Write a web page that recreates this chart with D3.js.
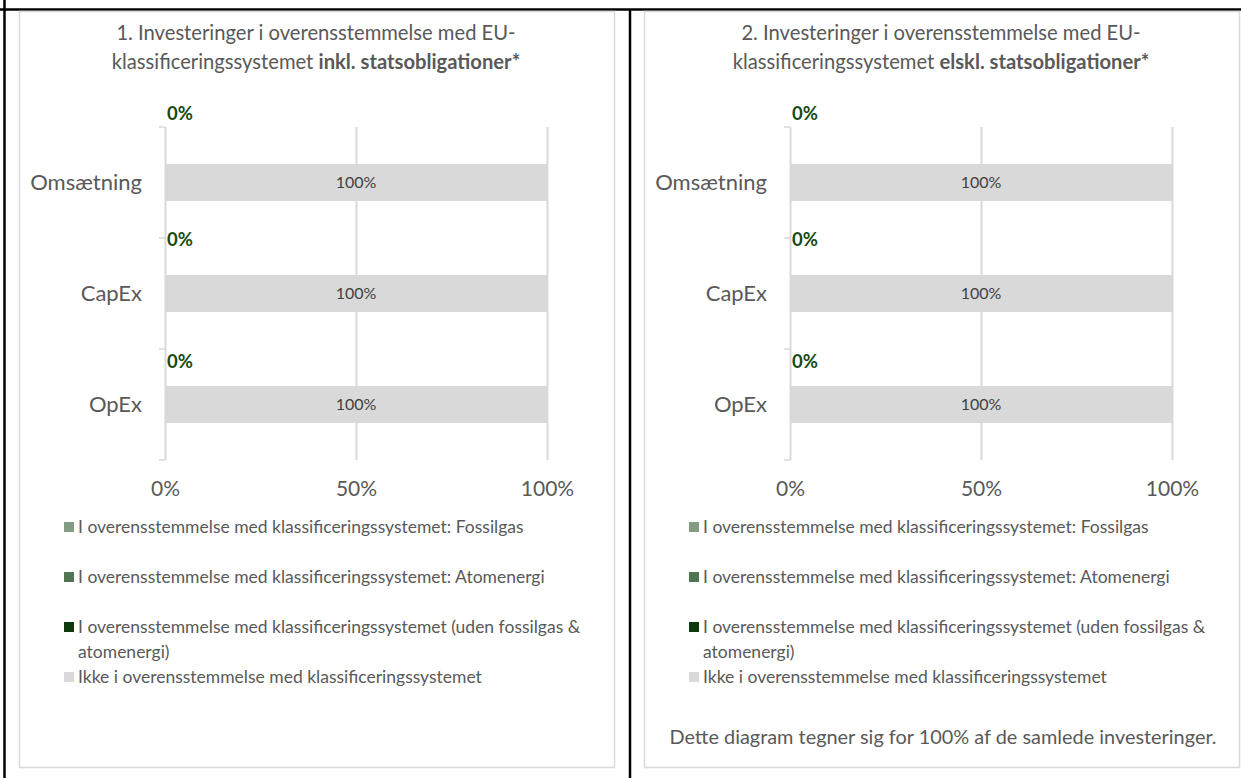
<!DOCTYPE html>
<html>
<head>
<meta charset="utf-8">
<script src="https://cdn.jsdelivr.net/npm/d3@7"></script>
<style>
  body { margin: 0; background: #fff; }
  svg text { font-family: Lato, "Open Sans", sans-serif; fill: #595959; }
</style>
</head>
<body>
<svg id="chart" width="1241" height="778"></svg>
<script>
// categories and series
const categories = ['Omsætning', 'CapEx', 'OpEx']
const seriesNames = [
  'I overensstemmelse med klassificeringssystemet: Fossilgas',
  'I overensstemmelse med klassificeringssystemet: Atomenergi',
  'I overensstemmelse med klassificeringssystemet (uden fossilgas & atomenergi)',
  'Ikke i overensstemmelse med klassificeringssystemet'
]
const seriesKeys = ['fossilgas', 'atomenergi', 'aligned', 'notAligned']
const seriesColors = ['#849c84', '#4f7552', '#0e3b0e', '#d9d9d9']

// panel 1 (inkl. statsobligationer)
const p1Fossilgas = [0, 0, 0]
const p1Atomenergi = [0, 0, 0]
const p1Aligned = [0, 0, 0]
const p1NotAligned = [100, 100, 100]

// panel 2 (eksl. statsobligationer)
const p2Fossilgas = [0, 0, 0]
const p2Atomenergi = [0, 0, 0]
const p2Aligned = [0, 0, 0]
const p2NotAligned = [100, 100, 100]

const xTicks = [0, 50, 100]

const titles1 = ['1. Investeringer i overensstemmelse med EU-', 'klassificeringssystemet ', 'inkl. statsobligationer*']
const titles2 = ['2. Investeringer i overensstemmelse med EU-', 'klassificeringssystemet ', 'elskl. statsobligationer*']
const note = 'Dette diagram tegner sig for 100% af de samlede investeringer.'

const svg = d3.select('#chart')

// table frame
svg.append('line').attr('x1', 4.5).attr('x2', 4.5).attr('y1', 0).attr('y2', 778)
  .attr('stroke', '#000').attr('stroke-width', 2.5)
svg.append('line').attr('x1', 0).attr('x2', 1241).attr('y1', 9.5).attr('y2', 9.5)
  .attr('stroke', '#000').attr('stroke-width', 2.5)
svg.append('line').attr('x1', 630).attr('x2', 630).attr('y1', 9).attr('y2', 778)
  .attr('stroke', '#000').attr('stroke-width', 2.5)

function drawPanel(offsetX, titleLines, values, withNote) {
  const g = svg.append('g').attr('transform', `translate(${offsetX}, 0)`)

  g.append('rect')
    .attr('x', 19.5).attr('y', 11.5).attr('width', 595).attr('height', 756)
    .attr('fill', '#fff').attr('stroke', '#d9d9d9').attr('stroke-width', 1.5)

  // title
  const t = g.append('text').attr('text-anchor', 'middle').style('font-size', '20.2px')
  t.append('tspan').attr('x', 316).attr('y', 40).text(titleLines[0])
  const t2 = t.append('tspan').attr('x', 316).attr('y', 69)
  t2.append('tspan').text(titleLines[1])
  t2.append('tspan').style('font-weight', 'bold').text(titleLines[2])

  const rows = categories.map((c, i) => {
    const r = {category: c}
    seriesKeys.forEach((k, j) => { r[k] = values[j][i] })
    return r
  })
  const stacked = d3.stack().keys(seriesKeys)(rows)

  const x = d3.scaleLinear().domain([0, 100]).range([165, 547])
  const y = d3.scaleBand().domain(categories).range([127, 460])
    .paddingInner(0.667).paddingOuter(0.333)
  const yCat = d3.scaleBand().domain(categories).range([127, 460])

  // gridlines
  g.append('g')
    .attr('transform', 'translate(0, 460)')
    .call(d3.axisBottom(x).tickValues(xTicks).tickSize(-333).tickFormat(''))
    .call(a => a.select('.domain').remove())
    .call(a => a.selectAll('line').attr('stroke', '#d9d9d9').attr('stroke-width', 2))

  // category axis
  const yAxis = g.append('g')
    .attr('transform', `translate(${x(0)}, 0)`)
    .call(d3.axisLeft(yCat).tickSize(0).tickPadding(23))
  yAxis.select('.domain').remove()
  yAxis.selectAll('text').style('font-size', '22px').attr('fill', '#595959')
  const bounds = categories.map(c => yCat(c)).concat([yCat(categories[2]) + yCat.bandwidth()])
  g.selectAll('.ytick').data(bounds).enter().append('line')
    .attr('x1', x(0) - 6).attr('x2', x(0)).attr('y1', d => d).attr('y2', d => d)
    .attr('stroke', '#d9d9d9').attr('stroke-width', 1.5)

  // value axis labels
  const xAxis = g.append('g')
    .attr('transform', 'translate(0, 460)')
    .call(d3.axisBottom(x).tickValues(xTicks).tickSize(0).tickPadding(21).tickFormat(d => d + '%'))
  xAxis.select('.domain').remove()
  xAxis.selectAll('text').style('font-size', '21px').attr('fill', '#595959')

  // bars
  stacked.forEach((s, j) => {
    g.append('g').selectAll('rect').data(s).enter().append('rect')
      .attr('x', d => x(d[0]))
      .attr('y', d => y(d.data.category))
      .attr('width', d => x(d[1]) - x(d[0]))
      .attr('height', y.bandwidth())
      .attr('fill', seriesColors[j])
  })

  // labels inside the grey bars
  const grey = stacked[3]
  g.append('g').selectAll('text').data(grey).enter().append('text')
    .attr('x', d => (x(d[0]) + x(d[1])) / 2)
    .attr('y', d => y(d.data.category) + y.bandwidth() / 2)
    .attr('text-anchor', 'middle').attr('dy', '0.35em')
    .style('font-size', '16px').style('fill', '#404040')
    .text(d => (d[1] - d[0]) + '%')

  // labels for the aligned series (shown above the bars)
  const labelShift = [-69, -54, -43]
  const green = stacked[2]
  g.append('g').selectAll('text').data(green).enter().append('text')
    .attr('x', d => x(d[1]) + 2)
    .attr('y', (d, i) => y(d.data.category) + y.bandwidth() / 2 + labelShift[i])
    .attr('dy', '0.35em')
    .style('font-size', '18.5px').style('font-weight', 'bold').style('fill', '#174a12')
    .text(d => (d[1] - d[0]) + '%')

  // legend
  const legendRows = [527, 577, 627, 677]
  const lg = g.append('g')
  seriesNames.forEach((name, j) => {
    lg.append('rect').attr('x', 64).attr('y', legendRows[j] - 5).attr('width', 10).attr('height', 10)
      .attr('fill', seriesColors[j])
    const txt = lg.append('text').attr('x', 78).attr('y', legendRows[j]).attr('dy', '0.35em')
      .style('font-size', '17.5px')
    if (j === 2) {
      txt.append('tspan').text('I overensstemmelse med klassificeringssystemet (uden fossilgas &')
      txt.append('tspan').attr('x', 78).attr('dy', 25).text('atomenergi)')
    } else {
      txt.text(name)
    }
  })

  if (withNote) {
    g.append('text').attr('x', 318).attr('y', 737).attr('dy', '0.35em')
      .attr('text-anchor', 'middle').style('font-size', '19.9px').text(note)
  }
}

drawPanel(0, titles1, [p1Fossilgas, p1Atomenergi, p1Aligned, p1NotAligned], false)
drawPanel(625, titles2, [p2Fossilgas, p2Atomenergi, p2Aligned, p2NotAligned], true)
</script>
</body>
</html>
